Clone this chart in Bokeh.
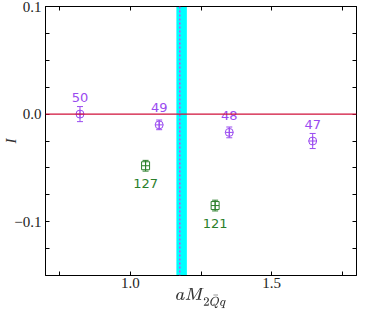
import numpy as np
from bokeh.plotting import figure
from bokeh.models import (Range1d, FixedTicker, LinearAxis, Whisker, TeeHead,
                          ColumnDataSource, Span, CustomJSTickFormatter, BoxAnnotation)
from bokeh.core.properties import value
from bokeh.embed import file_html
from bokeh.resources import INLINE

# ---- data ----
purple_x = [0.822, 1.102, 1.350, 1.645]
purple_y = [0.000, -0.010, -0.017, -0.025]
purple_err = [0.007, 0.0045, 0.005, 0.007]
purple_lab = ["50", "49", "48", "47"]

green_x = [1.054, 1.300]
green_y = [-0.048, -0.085]
green_err = [0.005, 0.005]
green_lab = ["127", "121"]

band_lo, band_hi, band_mid = 1.163, 1.200, 1.175
zero_line = 0.0

x_start, x_end = 0.7, 1.8
y_start, y_end = -0.15, 0.1
x_major = [1.0, 1.5]
x_minor = [0.75, 1.25, 1.75]
y_major = [-0.1, 0.0, 0.1]
y_minor = [-0.125, -0.075, -0.05, -0.025, 0.025, 0.05, 0.075]

PURPLE = "#9a4bf0"
GREEN = "#2b7f2b"

p = figure(width=358, height=311, output_backend="svg", toolbar_location=None,
           x_range=Range1d(x_start, x_end), y_range=Range1d(y_start, y_end),
           min_border_left=40, min_border_right=2, min_border_top=6, min_border_bottom=28)
p.background_fill_color = "white"
p.border_fill_color = "white"
p.grid.visible = False
p.outline_line_color = "black"
p.outline_line_width = 1

fmt = CustomJSTickFormatter(code="""
const s = Math.abs(tick).toFixed(1);
return (tick < -1e-9 ? "\\u2212" : "") + s;
""")
blank = CustomJSTickFormatter(code='return "";')

def style_axis(ax, labels=True):
    ax.axis_line_color = "black"
    ax.major_tick_in = 4
    ax.major_tick_out = 0
    ax.minor_tick_in = 4
    ax.minor_tick_out = 0
    ax.major_tick_line_color = "black"
    ax.minor_tick_line_color = "black"
    if labels:
        ax.major_label_text_font = "Liberation Serif"
        ax.major_label_text_font_size = "15px"
        ax.major_label_text_color = "#222222"
        ax.major_label_standoff = 4
        ax.formatter = fmt
    else:
        ax.formatter = blank
        ax.major_label_text_font_size = "1px"
        ax.major_label_standoff = 0

xt = FixedTicker(ticks=x_major, minor_ticks=x_minor)
yt = FixedTicker(ticks=y_major, minor_ticks=y_minor)

p.xaxis.ticker = xt
p.yaxis.ticker = yt
style_axis(p.xaxis[0])
style_axis(p.yaxis[0])
p.xaxis[0].major_label_standoff = 2
p.xaxis.axis_label = r"$$aM_{2\bar{Q}q}$$"
p.xaxis.axis_label_standoff = -3
p.xaxis.axis_label_text_font_size = "14px"
p.xaxis.axis_label_text_color = "#333333"

p.yaxis.axis_label = "I"
p.yaxis.axis_label_standoff = -8
p.yaxis.axis_label_text_font = "Liberation Serif"
p.yaxis.axis_label_text_font_style = "italic"
p.yaxis.axis_label_text_font_size = "15px"
p.yaxis.axis_label_text_color = "#333333"

top = LinearAxis(ticker=xt)
style_axis(top, labels=False)
right = LinearAxis(ticker=yt)
style_axis(right, labels=False)
p.add_layout(top, "above")
p.add_layout(right, "right")

# band
p.add_layout(BoxAnnotation(left=band_lo, right=band_hi, fill_color="#00ffff", fill_alpha=1.0,
                           line_alpha=0, level="underlay"))
p.add_layout(Span(location=band_mid, dimension="height", line_color="#cc44ee",
                  line_dash="2 2", line_width=1.5))
p.add_layout(Span(location=zero_line, dimension="width", line_color="#d0103a", line_width=1.3))

# purple series
ps = ColumnDataSource(dict(x=purple_x, y=purple_y,
                           lo=[y - e for y, e in zip(purple_y, purple_err)],
                           hi=[y + e for y, e in zip(purple_y, purple_err)],
                           lab=purple_lab))
p.add_layout(Whisker(source=ps, base="x", lower="lo", upper="hi", line_color=PURPLE, line_width=1,
                     upper_head=TeeHead(size=6, line_color=PURPLE),
                     lower_head=TeeHead(size=6, line_color=PURPLE)))
p.scatter("x", "y", source=ps, marker="circle_cross", size=8, fill_alpha=0,
          line_color=PURPLE, line_width=1)
p.text("x", "y", text="lab", source=ps, y_offset=-17, text_align="center",
       text_baseline="middle", text_color=PURPLE, text_font=value("DejaVu Sans"),
       text_font_size="13px")

# green series
gs = ColumnDataSource(dict(x=green_x, y=green_y,
                           lo=[y - e for y, e in zip(green_y, green_err)],
                           hi=[y + e for y, e in zip(green_y, green_err)],
                           lab=green_lab))
p.add_layout(Whisker(source=gs, base="x", lower="lo", upper="hi", line_color=GREEN, line_width=1,
                     upper_head=TeeHead(size=6, line_color=GREEN),
                     lower_head=TeeHead(size=6, line_color=GREEN)))
p.scatter("x", "y", source=gs, marker="square_cross", size=8, fill_alpha=0,
          line_color=GREEN, line_width=1)
p.text("x", "y", text="lab", source=gs, y_offset=18, text_align="center",
       text_baseline="middle", text_color=GREEN, text_font=value("DejaVu Sans"),
       text_font_size="13px")

open("out.html", "w").write(file_html(p, INLINE))
